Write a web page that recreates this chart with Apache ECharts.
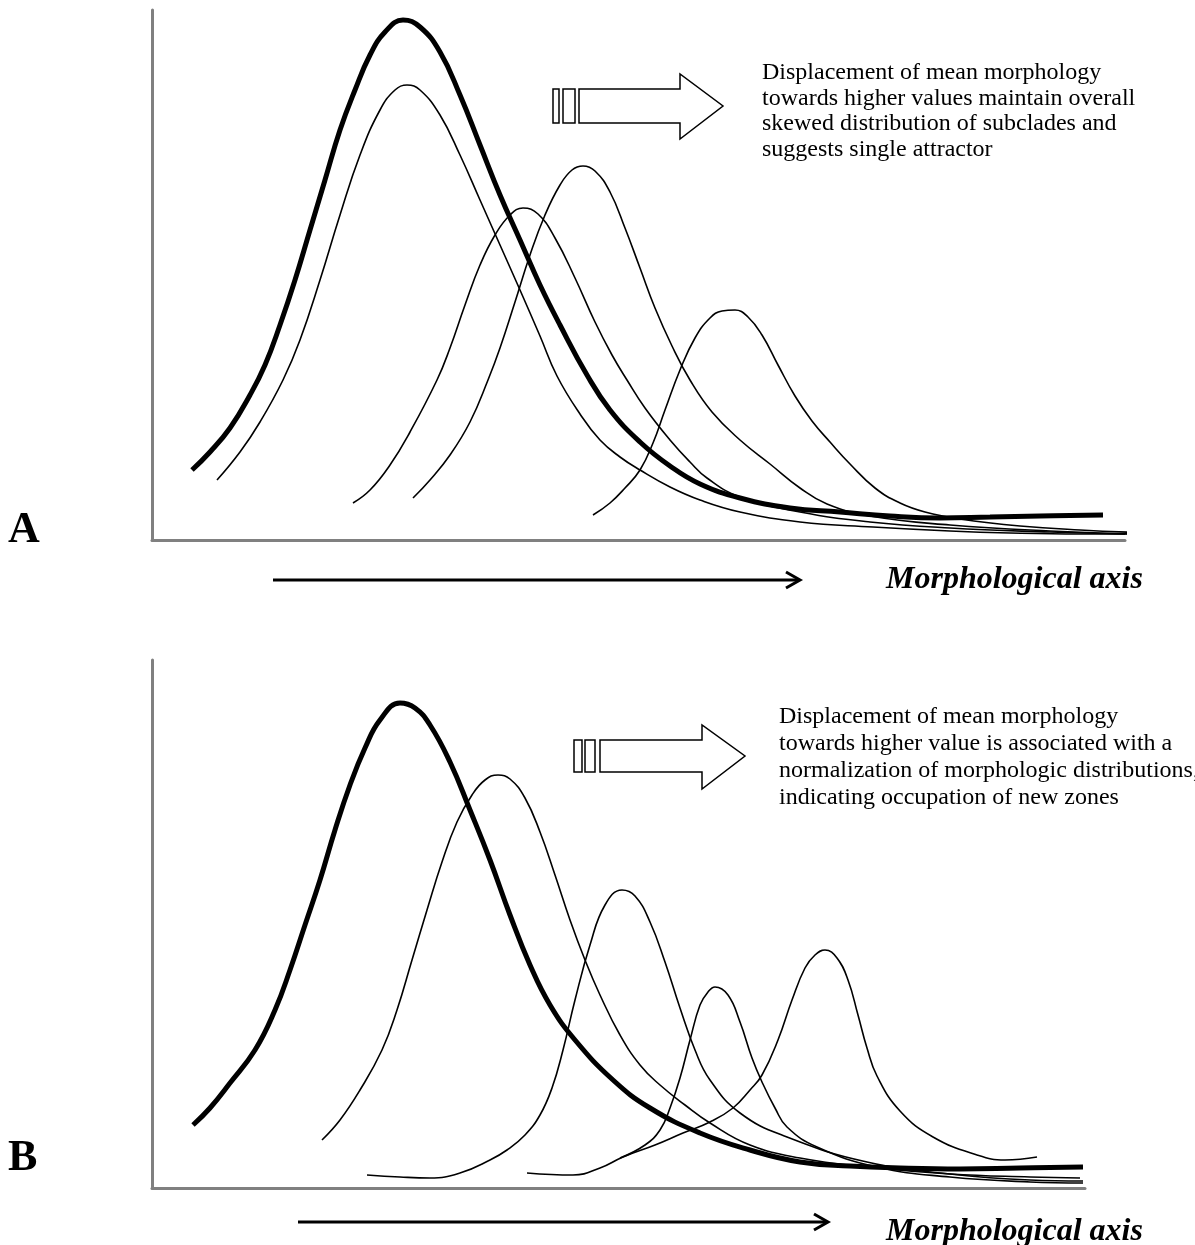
<!DOCTYPE html>
<html>
<head>
<meta charset="utf-8">
<script src="https://cdn.jsdelivr.net/npm/echarts@6/dist/echarts.min.js"></script>
<style>
  html, body { margin: 0; padding: 0; background: #fff; }
  #chart { width: 1195px; height: 1245px; }
</style>
</head>
<body>
<div id="chart"></div>
<script>
// morphology units: x and y both measured from the axes origin of each panel
// panel A - skewed subclades, single attractor
const meanA = [
  [4.0, 7.0], [5.8, 8.8], [7.8, 11.2], [9.8, 14.5], [11.3, 17.5], [12.8, 21.5], [14.3, 26.0],
  [15.8, 31.0], [17.3, 36.0], [18.8, 41.0], [20.3, 45.0], [21.8, 48.5], [23.3, 50.8], [25.1, 52.0],
  [26.8, 51.3], [28.8, 48.8], [30.8, 44.5], [32.8, 39.5], [34.8, 34.5], [36.8, 30.0], [38.8, 25.5],
  [40.8, 21.5], [43.5, 16.5], [45.8, 13.0], [48.8, 9.8], [51.8, 7.4], [54.8, 5.6], [58.8, 4.2],
  [63.8, 3.2], [68.8, 2.8], [73.8, 2.4], [78.8, 2.2], [83.8, 2.3], [88.8, 2.4], [95.1, 2.5]
];
const subA1 = [
  [6.5, 6.0], [8.8, 8.8], [10.8, 11.8], [13.1, 16.0], [14.8, 20.0], [16.8, 26.0], [18.8, 32.5],
  [20.8, 38.5], [22.8, 43.0], [24.3, 45.0], [25.5, 45.5], [26.8, 45.0], [28.8, 42.5], [30.8, 38.5],
  [32.8, 34.0], [34.8, 29.5], [36.8, 25.0], [38.8, 20.4], [40.5, 16.4], [42.8, 12.6], [44.8, 10.0],
  [46.8, 8.3], [48.8, 7.0], [51.8, 5.3], [54.8, 4.0], [58.8, 2.8], [64.8, 1.8], [72.1, 1.3],
  [79.8, 0.9], [85.8, 0.7], [92.8, 0.6], [99.5, 0.6]
];
const subA2 = [
  [20.1, 3.7], [21.8, 5.0], [23.8, 7.5], [25.8, 10.8], [28.5, 16.0], [29.8, 19.2], [31.3, 23.5],
  [32.8, 27.5], [34.3, 30.5], [35.8, 32.5], [37.1, 33.2], [38.6, 32.6], [40.3, 30.2], [42.3, 26.2],
  [44.3, 21.8], [46.0, 18.5], [47.5, 16.0], [49.3, 13.2], [51.8, 10.0], [53.8, 7.8], [55.5, 6.2],
  [58.8, 4.3], [64.8, 2.8], [71.8, 1.8], [79.8, 1.2], [89.8, 0.8], [97.3, 0.6]
];
const subA3 = [
  [26.1, 4.2], [27.8, 6.0], [29.8, 8.5], [31.8, 11.8], [33.6, 16.0], [34.8, 19.2], [36.3, 23.8],
  [37.8, 28.5], [39.3, 32.5], [40.8, 35.5], [42.0, 37.0], [43.1, 37.4], [44.3, 36.9], [45.8, 34.8],
  [47.3, 31.2], [48.8, 27.2], [50.3, 23.2], [52.0, 19.4], [53.8, 16.0], [56.0, 12.8], [58.8, 10.0],
  [61.8, 7.6], [64.8, 5.2], [67.5, 3.6], [71.8, 2.4], [79.8, 1.5], [89.8, 0.9], [98.8, 0.6]
];
const subA4 = [
  [44.1, 2.5], [45.8, 3.7], [47.3, 5.2], [48.8, 7.0], [50.1, 9.7], [51.3, 13.0], [52.8, 17.0],
  [54.3, 20.2], [55.8, 22.2], [57.0, 22.9], [58.3, 23.0], [59.6, 22.3], [61.0, 20.5], [62.6, 17.5],
  [64.3, 14.4], [66.0, 11.9], [67.8, 9.8], [69.8, 7.6], [72.3, 5.2], [74.8, 3.7], [77.3, 2.8],
  [80.8, 2.1], [86.8, 1.4], [92.8, 1.0], [99.8, 0.7]
];

// panel B - normalization of subclade distributions
const meanB = [
  [4.1, 6.3], [5.8, 8.0], [7.8, 10.5], [10.3, 13.8], [12.3, 17.8], [13.8, 21.8], [15.3, 26.3],
  [16.8, 30.8], [18.3, 35.8], [19.8, 40.3], [21.3, 44.0], [22.8, 46.8], [24.8, 48.5], [26.3, 48.0],
  [27.8, 46.3], [29.8, 42.6], [31.8, 37.8], [33.8, 32.8], [35.8, 27.3], [37.8, 22.3], [39.8, 18.3],
  [42.3, 14.8], [46.1, 10.8], [49.8, 8.0], [54.8, 5.5], [59.8, 3.8], [64.8, 2.6], [69.8, 2.2],
  [74.8, 2.0], [80.8, 1.9], [86.8, 2.0], [93.1, 2.1]
];
const subB1 = [
  [17.0, 4.8], [18.8, 6.8], [20.8, 9.8], [23.0, 13.8], [24.5, 17.8], [26.0, 22.8], [27.5, 27.8],
  [29.0, 32.6], [30.5, 36.6], [32.0, 39.3], [33.3, 40.8], [34.6, 41.3], [35.8, 40.9], [37.3, 39.0],
  [38.8, 35.6], [40.3, 31.3], [41.8, 26.8], [43.3, 22.8], [44.8, 19.3], [46.8, 15.3], [48.8, 12.3],
  [50.8, 10.3], [53.3, 8.3], [55.8, 6.5], [59.8, 4.3], [64.8, 3.0], [71.5, 2.1], [79.8, 1.4],
  [87.8, 1.1], [92.8, 1.0]
];
const subB2 = [
  [21.5, 1.3], [24.8, 1.1], [27.8, 1.0], [30.8, 1.5], [33.8, 2.8], [35.5, 3.8], [37.3, 5.3],
  [38.8, 7.3], [40.0, 10.0], [41.1, 13.8], [42.3, 18.8], [43.8, 24.3], [45.3, 28.3], [47.0, 29.8],
  [48.3, 29.2], [49.8, 26.6], [51.3, 22.6], [52.8, 18.0], [54.3, 13.8], [55.8, 10.8], [58.8, 7.5],
  [63.5, 5.1], [71.5, 2.6], [79.8, 1.4], [87.8, 0.8], [93.1, 0.7]
];
const subB3 = [
  [46.8, 3.0], [49.3, 4.3], [50.8, 5.8], [51.8, 8.0], [52.8, 11.0], [53.8, 14.8], [54.8, 18.3],
  [55.6, 19.6], [56.3, 20.1], [57.6, 19.3], [58.8, 16.6], [60.0, 13.0], [61.0, 10.6], [62.3, 8.0],
  [63.5, 6.1], [66.5, 4.1], [72.5, 2.1], [79.8, 1.1], [87.8, 0.6], [93.1, 0.5]
];
const subB4 = [
  [37.5, 1.5], [42.1, 1.3], [44.8, 2.0], [47.1, 3.1], [50.3, 4.3], [53.1, 5.5], [55.8, 6.6],
  [58.1, 8.0], [59.8, 9.8], [61.0, 11.3], [62.6, 14.8], [64.0, 18.8], [65.3, 22.0], [66.3, 23.3],
  [67.3, 23.8], [68.5, 23.0], [69.6, 20.8], [70.6, 17.3], [71.5, 14.0], [72.5, 11.2], [74.8, 7.7],
  [78.1, 5.1], [82.5, 3.3], [85.3, 2.8], [88.5, 3.1]
];

const panelLabels = ['A', 'B'];
const axisTitle = 'Morphological axis';
const noteA = 'Displacement of mean morphology\ntowards higher values maintain overall\nskewed distribution of subclades and\nsuggests single attractor';
const noteB = 'Displacement of mean morphology\ntowards higher value is associated with a\nnormalization of morphologic distributions,\nindicating occupation of new zones';

const serif = '"Liberation Serif", "DejaVu Serif", serif';

function curve(data, panel, thick) {
  return {
    type: 'line',
    xAxisIndex: panel,
    yAxisIndex: panel,
    data: data,
    smooth: 0.45,
    showSymbol: false,
    clip: false,
    silent: true,
    lineStyle: { color: '#000', width: thick ? 5 : 1.6 }
  };
}

function axisX(grid, max) {
  return {
    type: 'value', gridIndex: grid, min: 0, max: max,
    axisLine: { show: true, lineStyle: { color: '#808080', width: 3 } },
    axisTick: { show: false }, axisLabel: { show: false }, splitLine: { show: false }
  };
}
function axisY(grid, max) {
  return {
    type: 'value', gridIndex: grid, min: 0, max: max,
    axisLine: { show: true, lineStyle: { color: '#808080', width: 3 } },
    axisTick: { show: false }, axisLabel: { show: false }, splitLine: { show: false }
  };
}

// block arrow (two bars + hollow arrow)
function blockArrow(x0, top, bot, headX, headTop, headBot, tipX, bars) {
  const mid = (top + bot) / 2;
  const els = bars.map(b => ({
    type: 'rect',
    shape: { x: b[0], y: top, width: b[1] - b[0], height: bot - top },
    style: { fill: '#fff', stroke: '#000', lineWidth: 1.5 }
  }));
  els.push({
    type: 'polygon',
    shape: { points: [[x0, top], [headX, top], [headX, headTop], [tipX, mid], [headX, headBot], [headX, bot], [x0, bot]] },
    style: { fill: '#fff', stroke: '#000', lineWidth: 1.5 }
  });
  return els;
}

function lineArrow(x1, x2, y) {
  return [
    { type: 'line', shape: { x1: x1, y1: y, x2: x2 - 2, y2: y }, style: { stroke: '#000', lineWidth: 3 } },
    { type: 'polyline', shape: { points: [[x2 - 14, y - 8], [x2, y], [x2 - 14, y + 8]] },
      style: { stroke: '#000', lineWidth: 3, fill: null } }
  ];
}

const chart = echarts.init(document.getElementById('chart'), null, { renderer: 'canvas' });

const graphics = [].concat(
  blockArrow(579, 89, 123, 680, 74, 139, 723, [[553, 559], [563, 575]]),
  blockArrow(600, 740, 772, 702, 725, 789, 745, [[574, 582], [585, 595]]),
  lineArrow(273, 800, 580),
  lineArrow(298, 828, 1222),
  [
    { type: 'text', left: 762, top: 60,
      style: { text: noteA, font: '24px ' + serif, lineHeight: 25.5, fill: '#000' } },
    { type: 'text', left: 779, top: 703,
      style: { text: noteB, font: '24px ' + serif, lineHeight: 27, fill: '#000' } },
    { type: 'text', left: 886, top: 564,
      style: { text: axisTitle, font: 'italic bold 32px ' + serif, fill: '#000' } },
    { type: 'text', left: 886, top: 1216,
      style: { text: axisTitle, font: 'italic bold 32px ' + serif, fill: '#000' } },
    { type: 'text', left: 8, top: 509,
      style: { text: panelLabels[0], font: 'bold 44px ' + serif, fill: '#000' } },
    { type: 'text', left: 8, top: 1137,
      style: { text: panelLabels[1], font: 'bold 44px ' + serif, fill: '#000' } }
  ]
);

chart.setOption({
  animation: false,
  backgroundColor: '#fff',
  grid: [
    { left: 152, top: 10, width: 973, height: 530 },
    { left: 152, top: 660, width: 933, height: 528 }
  ],
  xAxis: [axisX(0, 97.3), axisX(1, 93.3)],
  yAxis: [axisY(0, 53), axisY(1, 52.8)],
  series: [
    curve(meanA, 0, true), curve(subA1, 0), curve(subA2, 0), curve(subA3, 0), curve(subA4, 0),
    curve(meanB, 1, true), curve(subB1, 1), curve(subB2, 1), curve(subB3, 1), curve(subB4, 1)
  ],
  graphic: graphics
});
</script>
</body>
</html>
